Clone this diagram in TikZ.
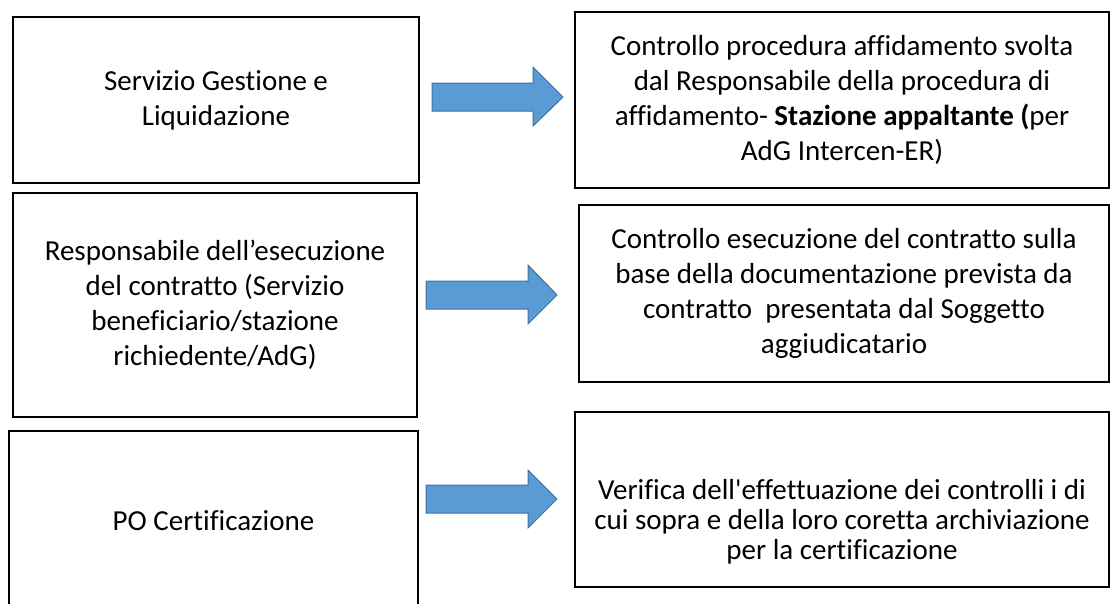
\documentclass[tikz,border=0pt]{standalone}
\usepackage{fontspec}
\setmainfont{Carlito}[Ligatures={TeX,NoCommon}]
\definecolor{arrowfill}{HTML}{5B9BD5}
\definecolor{arrowline}{HTML}{41719C}
\tikzset{
  panel/.style={draw=black, line width=1.3pt, inner sep=0pt, align=center,
    font=\fontsize{29}{35}\selectfont},
  blockarrow/.style={fill=arrowfill, draw=arrowline, line width=1pt, line join=miter},
}
\begin{document}
\begin{tikzpicture}[x=1pt,y=-1pt]
\useasboundingbox (0,0) rectangle (1111,603);
\clip (0,0) rectangle (1111,603);
% left column
\node[panel, minimum width=406pt, minimum height=166pt] (l1) at (216,100)
  {Servizio Gestione e\\Liquidazione};
\node[panel, minimum width=404pt, minimum height=224pt] (l2) at (215,305)
  {Responsabile dell’esecuzione\\del contratto (Servizio\\beneficiario/stazione\\richiedente/AdG)};
\node[panel, minimum width=409pt, minimum height=180pt] (l3) at (213.5,521)
  {PO Certificazione};
% right column
\node[panel, minimum width=534pt, minimum height=176pt] (r1) at (842,100)
  {Controllo procedura affidamento svolta\\dal Responsabile della procedura di\\affidamento- \textbf{Stazione appaltante (}per\\AdG Intercen-ER)};
\node[panel, minimum width=530pt, minimum height=177pt] (r2) at (844,293.5)
  {Controllo esecuzione del contratto sulla\\base della documentazione prevista da\\contratto\ \ presentata dal Soggetto\\aggiudicatario};
\node[panel, minimum width=534pt, minimum height=175pt] (r3) at (842,499.5) {};
\node[align=center, inner sep=0pt, font=\fontsize{29}{30}\selectfont] (t3) at (842,522)
  {Verifica dell\textquotesingle effettuazione dei controlli i di\\cui sopra e della loro coretta archiviazione\\per la certificazione};
% block arrows
\draw[blockarrow] (432,83) -- (533,83) -- (533,67) -- (563,97) -- (533,126) -- (533,111) -- (432,111) -- cycle;
\draw[blockarrow] (426,281) -- (528,281) -- (528,265) -- (557,295) -- (528,324) -- (528,309) -- (426,309) -- cycle;
\draw[blockarrow] (426,485) -- (528,485) -- (528,470) -- (557,499) -- (528,528) -- (528,513) -- (426,513) -- cycle;
\end{tikzpicture}
\end{document}
